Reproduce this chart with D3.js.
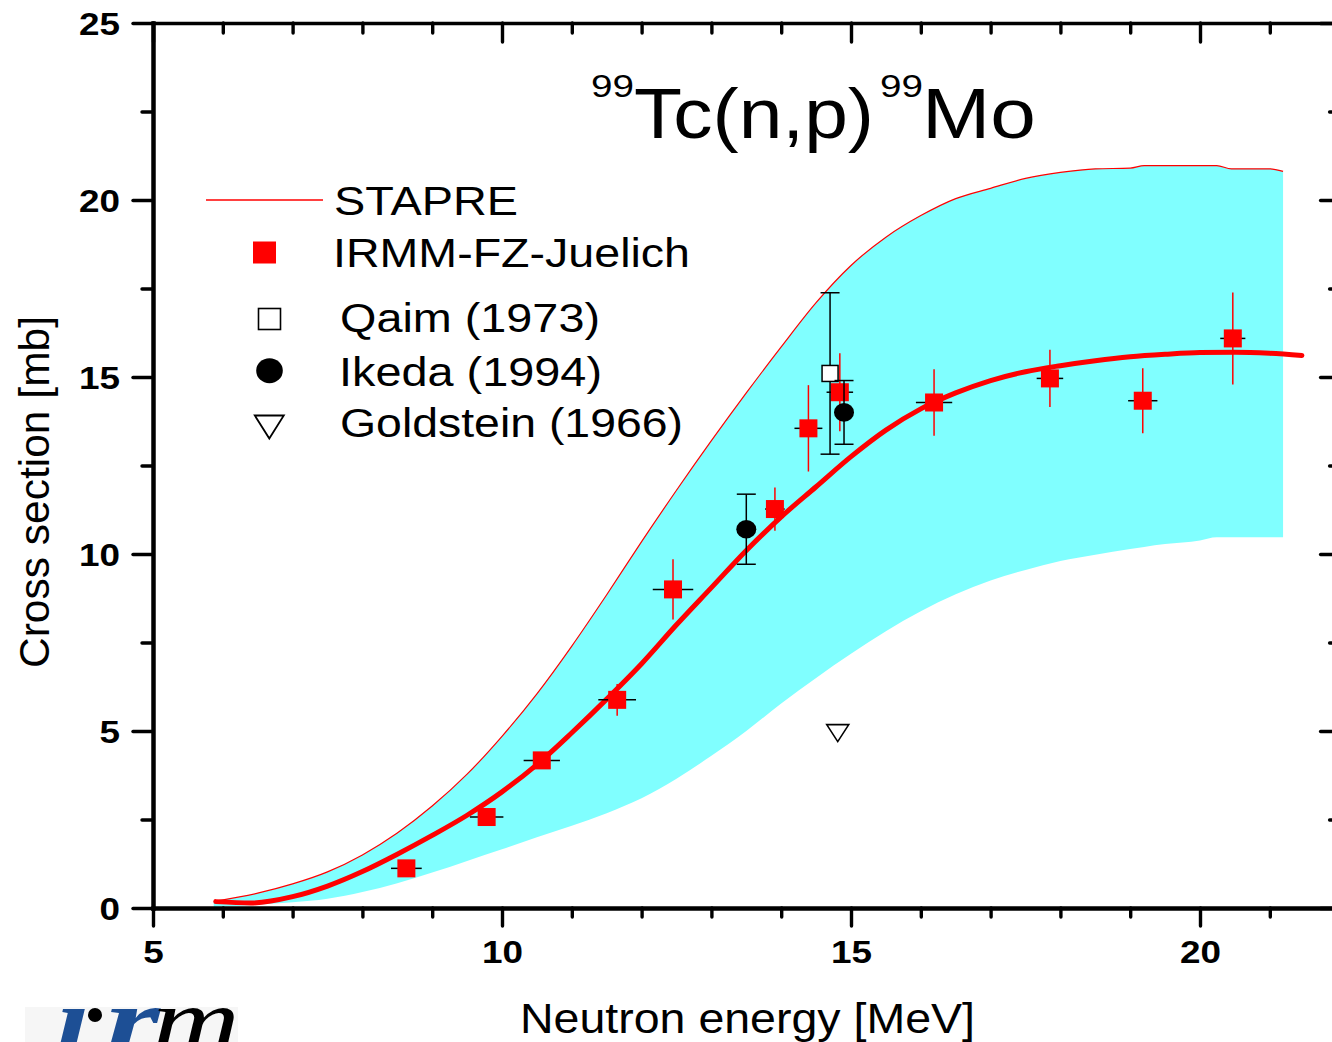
<!DOCTYPE html>
<html>
<head>
<meta charset="utf-8">
<script src="https://cdn.jsdelivr.net/npm/d3@7"></script>
<style>
  html, body { margin: 0; padding: 0; background: #fff; overflow: hidden; }
  svg { display: block; }
</style>
</head>
<body>
<svg id="chart" width="1332" height="1042"></svg>
<script>
// ---- STAPRE calculation: uncertainty band (upper / lower envelope) ----
const bandEnergy = [5.87, 6.5, 7.0, 7.5, 8.0, 8.5, 9.0, 9.5, 10.0, 10.5, 11.0, 11.5, 12.0, 12.5, 13.0, 13.5, 14.0, 14.5, 15.0, 15.5, 16.0, 16.5, 17.0, 17.5, 18.0, 18.5, 19.0, 19.2, 19.5, 20.0, 20.24, 20.45, 21.0, 21.19];
const bandUpper  = [0.19, 0.42, 0.68, 1.02, 1.5, 2.12, 2.88, 3.78, 4.85, 6.05, 7.4, 8.85, 10.35, 11.8, 13.2, 14.55, 15.85, 17.1, 18.15, 18.95, 19.56, 20.04, 20.33, 20.61, 20.78, 20.88, 20.9, 20.97, 20.97, 20.97, 20.97, 20.88, 20.88, 20.81];
const bandLower  = [0.03, 0.09, 0.16, 0.26, 0.45, 0.7, 1.0, 1.33, 1.66, 2.0, 2.32, 2.68, 3.1, 3.65, 4.3, 5.0, 5.78, 6.5, 7.18, 7.82, 8.38, 8.86, 9.25, 9.55, 9.8, 9.98, 10.14, 10.2, 10.28, 10.38, 10.47, 10.47, 10.47, 10.47];

// ---- Fitted excitation function (thick curve) ----
const curveEnergy = [5.9, 6.4, 7.0, 7.5, 8.0, 8.5, 9.0, 9.5, 10.0, 10.5, 11.0, 11.5, 12.0, 12.5, 13.0, 13.5, 14.0, 14.5, 15.0, 15.5, 16.0, 16.5, 17.0, 17.5, 18.0, 18.5, 19.0, 19.5, 20.0, 20.5, 21.0, 21.46];
const curveXS     = [0.18, 0.14, 0.32, 0.62, 1.03, 1.52, 2.05, 2.62, 3.28, 4.05, 4.95, 5.9, 6.9, 8.0, 9.05, 10.1, 11.05, 11.9, 12.75, 13.5, 14.1, 14.55, 14.9, 15.15, 15.32, 15.46, 15.57, 15.64, 15.69, 15.7, 15.67, 15.61];

// ---- IRMM-FZ-Juelich measurements ----
const irmmEnergy    = [8.63, 9.78, 10.57, 11.65, 12.45, 13.91, 14.39, 14.84, 16.19, 17.85, 19.18, 20.47];
const irmmEnergyErr = [0.22, 0.24, 0.26, 0.27, 0.29, 0.14, 0.2, 0.19, 0.26, 0.19, 0.21, 0.18];
const irmmXS        = [1.12, 2.57, 4.17, 5.88, 9.0, 11.27, 13.55, 14.57, 14.28, 14.96, 14.33, 16.09];
const irmmXSErr     = [0.1, 0.1, 0.12, 0.45, 0.85, 0.61, 1.22, 1.1, 0.94, 0.81, 0.92, 1.3];

// ---- Other data sets ----
const qaimEnergy = [14.70];
const qaimXS     = [15.1];
const qaimXSErr  = [2.28];

const ikedaEnergy = [13.50, 14.90];
const ikedaXS     = [10.7, 14.0];
const ikedaXSErr  = [0.99, 0.9];

const goldsteinEnergy = [14.81];
const goldsteinXS     = [4.94];

// ---- Axis ticks ----
const xMajorTicks = [5, 10, 15, 20];
const xMinorTicks = [6, 7, 8, 9, 11, 12, 13, 14, 16, 17, 18, 19, 21, 22];
const yMajorTicks = [0, 5, 10, 15, 20, 25];
const yMinorTicks = [2.5, 7.5, 12.5, 17.5, 22.5];

// ---- Text ----
const legendLabels = ["STAPRE", "IRMM-FZ-Juelich", "Qaim (1973)", "Ikeda (1994)", "Goldstein (1966)"];
const xTitle = "Neutron energy [MeV]";
const yTitle = "Cross section [mb]";

const FONT = "'Liberation Sans', Arial, Helvetica, sans-serif";
const RED = "#ff0000";
const CYAN = "#80ffff";

const svg = d3.select("#chart");
svg.append("rect").attr("width", 1332).attr("height", 1042).attr("fill", "#fff");

const x = d3.scaleLinear().domain([5, 22]).range([153, 1339.6]);
const y = d3.scaleLinear().domain([0, 25]).range([908, 23]);

// ---- Band ----
const bandData = bandEnergy.map((e, i) => ({ e, hi: bandUpper[i], lo: bandLower[i] }));
svg.append("path")
  .datum(bandData)
  .attr("fill", CYAN)
  .attr("d", d3.area().x(d => x(d.e)).y0(d => y(d.lo)).y1(d => y(d.hi)).curve(d3.curveMonotoneX));
svg.append("path")
  .datum(bandData)
  .attr("fill", "none")
  .attr("stroke", RED)
  .attr("stroke-width", 1.2)
  .attr("d", d3.line().x(d => x(d.e)).y(d => y(d.hi)).curve(d3.curveMonotoneX));

// ---- Thick curve ----
const curveData = curveEnergy.map((e, i) => ({ e, v: curveXS[i] }));
svg.append("path")
  .datum(curveData)
  .attr("fill", "none")
  .attr("stroke", RED)
  .attr("stroke-width", 5)
  .attr("stroke-linecap", "round")
  .attr("stroke-linejoin", "round")
  .attr("d", d3.line().x(d => x(d.e)).y(d => y(d.v)).curve(d3.curveMonotoneX));

// ---- Axes ----
function styleAxis(g, domainWidth) {
  g.select(".domain").attr("stroke", "#000").attr("stroke-width", domainWidth).attr("stroke-linecap", "square");
  g.selectAll(".tick line").attr("stroke", "#000").attr("stroke-width", 3.4).attr("stroke-linecap", "round");
}
function noDomain(g) { g.select(".domain").remove(); }

// bottom
const gxMinor = svg.append("g").attr("transform", "translate(0,908)")
  .call(d3.axisBottom(x).tickValues(xMinorTicks).tickSize(9).tickFormat(""));
noDomain(gxMinor); styleAxis(gxMinor, 0);
const gx = svg.append("g").attr("transform", "translate(0,908)")
  .call(d3.axisBottom(x).tickValues(xMajorTicks).tickSize(18).tickSizeOuter(0));
styleAxis(gx, 4.3);
gx.selectAll(".tick text")
  .attr("y", 55).attr("dy", null)
  .attr("font-family", FONT).attr("font-size", 32).attr("font-weight", "bold").attr("fill", "#000")
  .attr("textLength", d => String(d).length * 20.5).attr("lengthAdjust", "spacingAndGlyphs");

// top (ticks inward)
const gtMinor = svg.append("g").attr("transform", "translate(0,23)")
  .call(d3.axisTop(x).tickValues(xMinorTicks).tickSize(-10).tickFormat(""));
noDomain(gtMinor); styleAxis(gtMinor, 0);
const gt = svg.append("g").attr("transform", "translate(0,23)")
  .call(d3.axisTop(x).tickValues(xMajorTicks).tickSize(-19).tickSizeOuter(0).tickFormat(""));
styleAxis(gt, 3.4);

// left
const gyMinor = svg.append("g").attr("transform", "translate(153,0)")
  .call(d3.axisLeft(y).tickValues(yMinorTicks).tickSize(11).tickFormat(""));
noDomain(gyMinor); styleAxis(gyMinor, 0);
const gy = svg.append("g").attr("transform", "translate(153,0)")
  .call(d3.axisLeft(y).tickValues(yMajorTicks).tickSize(20).tickSizeOuter(0));
styleAxis(gy, 4.5);
gy.selectAll(".tick text")
  .attr("x", -33).attr("y", 11.5).attr("dy", null)
  .attr("font-family", FONT).attr("font-size", 32).attr("font-weight", "bold").attr("fill", "#000")
  .attr("textLength", d => String(d).length * 20.5).attr("lengthAdjust", "spacingAndGlyphs");

// right (ticks inward)
const grMinor = svg.append("g").attr("transform", "translate(1339.6,0)")
  .call(d3.axisRight(y).tickValues(yMinorTicks).tickSize(-10).tickFormat(""));
noDomain(grMinor); styleAxis(grMinor, 0);
const gr = svg.append("g").attr("transform", "translate(1339.6,0)")
  .call(d3.axisRight(y).tickValues(yMajorTicks).tickSize(-19).tickSizeOuter(0).tickFormat(""));
styleAxis(gr, 4.3);

// ---- IRMM error bars and markers ----
const irmm = irmmEnergy.map((e, i) => ({ e, de: irmmEnergyErr[i], v: irmmXS[i], dv: irmmXSErr[i] }));
const gIrmm = svg.append("g");
gIrmm.selectAll("line.h").data(irmm).join("line")
  .attr("x1", d => x(d.e - d.de)).attr("x2", d => x(d.e + d.de))
  .attr("y1", d => y(d.v)).attr("y2", d => y(d.v))
  .attr("stroke", "#000").attr("stroke-width", 1.5);
gIrmm.selectAll("line.v").data(irmm).join("line")
  .attr("x1", d => x(d.e)).attr("x2", d => x(d.e))
  .attr("y1", d => y(d.v - d.dv)).attr("y2", d => y(d.v + d.dv))
  .attr("stroke", RED).attr("stroke-width", 1.5);
gIrmm.selectAll("rect").data(irmm).join("rect")
  .attr("x", d => x(d.e) - 9).attr("y", d => y(d.v) - 9)
  .attr("width", 18).attr("height", 18).attr("fill", RED);

// ---- Error bars with caps ----
function capBars(g, es, vs, dvs) {
  const data = es.map((e, i) => ({ e, v: vs[i], dv: dvs[i] }));
  const bg = g.append("g").attr("stroke", "#000").attr("stroke-width", 1.5).attr("fill", "none");
  data.forEach(d => {
    bg.append("line").attr("x1", x(d.e)).attr("x2", x(d.e)).attr("y1", y(d.v - d.dv)).attr("y2", y(d.v + d.dv));
    bg.append("line").attr("x1", x(d.e) - 9.5).attr("x2", x(d.e) + 9.5).attr("y1", y(d.v + d.dv)).attr("y2", y(d.v + d.dv));
    bg.append("line").attr("x1", x(d.e) - 9.5).attr("x2", x(d.e) + 9.5).attr("y1", y(d.v - d.dv)).attr("y2", y(d.v - d.dv));
  });
}

// Qaim
const gQaim = svg.append("g");
capBars(gQaim, qaimEnergy, qaimXS, qaimXSErr);
gQaim.selectAll("rect").data(qaimEnergy.map((e, i) => ({ e, v: qaimXS[i] }))).join("rect")
  .attr("x", d => x(d.e) - 8).attr("y", d => y(d.v) - 8)
  .attr("width", 16).attr("height", 16)
  .attr("fill", "#fff").attr("stroke", "#000").attr("stroke-width", 1.5);

// Ikeda
const gIkeda = svg.append("g");
capBars(gIkeda, ikedaEnergy, ikedaXS, ikedaXSErr);
gIkeda.selectAll("ellipse").data(ikedaEnergy.map((e, i) => ({ e, v: ikedaXS[i] }))).join("ellipse")
  .attr("cx", d => x(d.e)).attr("cy", d => y(d.v))
  .attr("rx", 10).attr("ry", 9.3).attr("fill", "#000");

// Goldstein
const triDown = (cx, cy, w, h) => `M${cx - w / 2},${cy - h / 2}L${cx + w / 2},${cy - h / 2}L${cx},${cy + h / 2}Z`;
svg.append("g").selectAll("path").data(goldsteinEnergy.map((e, i) => ({ e, v: goldsteinXS[i] }))).join("path")
  .attr("d", d => triDown(x(d.e), y(d.v), 22, 17))
  .attr("fill", "#fff").attr("stroke", "#000").attr("stroke-width", 1.6).attr("stroke-linejoin", "miter");

// ---- Text helper ----
function txt(str, px, py, size, len, opts = {}) {
  const t = svg.append("text")
    .attr("x", px).attr("y", py)
    .attr("font-family", opts.family || FONT).attr("font-size", size)
    .attr("font-weight", opts.weight || "normal")
    .attr("font-style", opts.style || "normal")
    .attr("fill", opts.fill || "#000")
    .text(str);
  if (len) t.attr("textLength", len).attr("lengthAdjust", "spacingAndGlyphs");
  if (opts.transform) t.attr("transform", opts.transform);
  if (opts.anchor) t.attr("text-anchor", opts.anchor);
  return t;
}

// ---- Title ----
txt("99", 591, 97, 31, 43);
txt("Tc(n,p)", 634, 138, 70, 240);
txt("99", 880, 97, 31, 43);
txt("Mo", 922, 138, 70, 114);

// ---- Legend ----
svg.append("line").attr("x1", 206).attr("x2", 323).attr("y1", 200).attr("y2", 200)
  .attr("stroke", RED).attr("stroke-width", 1.3);
svg.append("rect").attr("x", 253).attr("y", 241.5).attr("width", 23).attr("height", 22).attr("fill", RED);
svg.append("rect").attr("x", 258.5).attr("y", 308.5).attr("width", 22).attr("height", 21)
  .attr("fill", "#fff").attr("stroke", "#000").attr("stroke-width", 1.6);
svg.append("ellipse").attr("cx", 269.5).attr("cy", 370.7).attr("rx", 13.3).attr("ry", 12.5).attr("fill", "#000");
svg.append("path").attr("d", triDown(269.3, 427, 29, 23))
  .attr("fill", "#fff").attr("stroke", "#000").attr("stroke-width", 1.8);

txt(legendLabels[0], 334, 215, 41, 184);
txt(legendLabels[1], 333, 267, 41, 357);
txt(legendLabels[2], 340, 332, 41, 260);
txt(legendLabels[3], 339, 386, 41, 263);
txt(legendLabels[4], 340, 437, 41, 343);

// ---- Axis titles ----
txt(xTitle, 520, 1033, 42, 455);
txt(yTitle, 0, 0, 42, 352, { transform: "translate(49,668) rotate(-90)" });

// ---- Institute logo (bottom-left, runs off the lower edge) ----
svg.append("rect").attr("x", 25).attr("y", 1007).attr("width", 213).attr("height", 40).attr("fill", "#f6f6f6");
const SERIF = "'Liberation Serif', 'Times New Roman', serif";
txt("\u0131", 56, 1050, 88, 34, { family: SERIF, style: "italic", weight: "bold", fill: "#1d4f95" });
txt("r", 106, 1050, 88, 54, { family: SERIF, style: "italic", weight: "bold", fill: "#1d4f95" });
svg.append("circle").attr("cx", 95).attr("cy", 1015).attr("r", 7).attr("fill", "#000");
txt("m", 152, 1050, 88, 88, { family: SERIF, style: "italic", fill: "#000" });
</script>
</body>
</html>
